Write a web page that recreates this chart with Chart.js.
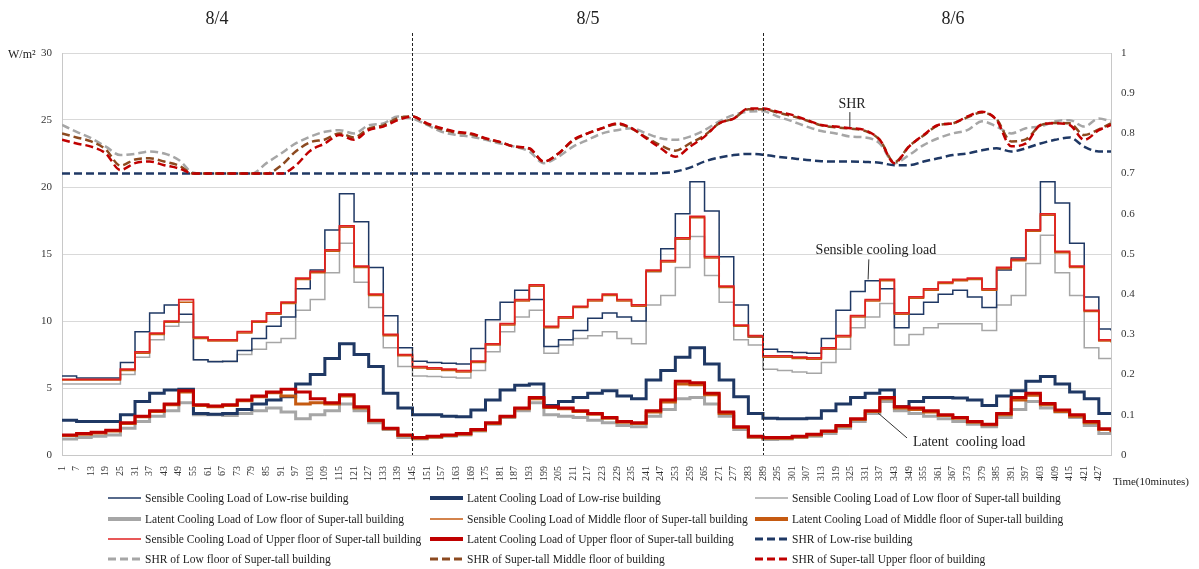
<!DOCTYPE html>
<html>
<head>
<meta charset="utf-8">
<title>Cooling load and SHR</title>
<script src="https://cdn.jsdelivr.net/npm/chart.js@4.4.0/dist/chart.umd.min.js"></script>
<style>
  html, body { margin: 0; padding: 0; background: #fff; }
  #wrap { position: relative; width: 1199px; height: 569px; font-family: "Liberation Serif", "Times New Roman", serif; color: #222; }
  #c { position: absolute; left: 0; top: 0; }
  .txt { position: absolute; white-space: nowrap; line-height: 1; }
  .day { font-size: 18px; top: 9px; transform: translateX(-50%); }
  .leg { position: absolute; height: 16px; display: flex; align-items: center; font-size: 11.5px; white-space: nowrap; }
  .leg svg { margin-right: 4px; flex: none; }
</style>
</head>
<body>
<div id="wrap">
  <canvas id="c" width="1199" height="569"></canvas>
  <div class="txt day" style="left:217px">8/4</div>
  <div class="txt day" style="left:588px">8/5</div>
  <div class="txt day" style="left:953px">8/6</div>
  <div class="txt" style="left:8px; top:48px; font-size:12px">W/m²</div>
  <div class="txt" style="left:1113px; top:476px; font-size:11px">Time(10minutes)</div>
  <div id="legend"></div>
</div>
<script>
// x positions: one value per hour (10-minute index), last point closes the series
const timeTicks = Array.from({ length: 72 }, (_, i) => 1 + 6 * i);
const hourX = timeTicks.concat(432);
const dayBreaks = [145, 289];

// Cooling loads, W/m2 (hourly, 8/4 | 8/5 | 8/6 | end)
const sensLowRise = [
  5.9, 5.75, 5.75, 5.75, 6.9, 9.2, 10.6, 11.2, 10.5, 7.1, 6.95, 7.0, 7.8, 8.7, 9.6, 10.3, 12.4, 13.8, 16.8, 19.5, 17.4, 14.0, 10.4, 8.0,
  7.0, 6.9, 6.85, 6.8, 7.95, 10.1, 11.4, 12.3, 11.6, 8.1, 8.6, 9.3, 10.2, 10.6, 10.3, 10.0, 13.7, 15.4, 18.0, 20.4, 18.2, 14.8, 11.2, 8.8,
  7.9, 7.7, 7.65, 7.6, 8.7, 10.8, 12.2, 13.0, 12.4, 9.5, 10.5, 11.4, 12.0, 12.3, 11.8, 11.0, 13.8, 14.7, 16.8, 20.4, 18.8, 15.8, 11.8, 9.4,
  9.3
];
const latLowRise = [
  2.6, 2.5, 2.5, 2.5, 3.0, 4.0, 4.6, 4.85, 4.9, 3.1, 3.05, 3.1, 3.4, 3.8, 4.1, 4.35, 5.3, 6.0, 7.2, 8.3, 7.5, 6.6, 4.6, 3.5,
  3.0, 3.0, 2.9, 2.85, 3.35, 4.1, 4.85, 5.2, 5.3, 3.7, 4.0, 4.3, 4.6, 4.8, 4.4, 4.2, 5.6, 6.3, 7.3, 8.0, 6.8, 5.6, 4.35, 3.1,
  2.75, 2.7, 2.7, 2.75, 3.3, 3.8, 4.3, 4.6, 4.85, 3.6, 4.0, 4.3, 4.3, 4.25, 4.1, 3.7, 4.4, 4.8, 5.5, 5.85, 5.3, 4.7, 4.2, 3.1,
  3.0
];
const sensLowFloor = [
  5.3, 5.3, 5.3, 5.3, 6.0, 7.3, 8.6, 9.6, 9.9, 7.1, 7.0, 6.95, 7.5, 7.9, 8.4, 8.7, 10.8, 11.6, 13.6, 15.8, 12.9, 11.0, 8.0, 6.6,
  5.9, 5.85, 5.8, 5.75, 6.3, 7.7, 9.2, 10.3, 10.8, 7.6, 8.2, 8.7, 8.9, 9.2, 8.7, 8.3, 11.2, 11.9, 14.0, 16.3, 13.4, 11.4, 8.6, 8.2,
  6.4, 6.3, 6.2, 6.1, 6.9, 7.9, 9.5, 10.3, 11.3, 8.2, 9.0, 9.5, 9.8, 9.8, 9.8, 9.3, 11.2, 11.9, 14.3, 16.4, 13.6, 11.9, 8.0, 7.2,
  7.2
];
const latLowFloor = [
  1.2, 1.3, 1.4, 1.5, 2.0, 2.5, 2.9, 3.3, 3.9, 3.0, 3.0, 2.95, 3.1, 3.3, 3.5, 3.2, 2.7, 3.0, 3.3, 3.8, 3.3, 2.4, 1.9, 1.3,
  1.2, 1.3, 1.4, 1.5, 1.8, 2.3, 2.8, 3.3, 3.9, 3.0, 2.9, 2.8, 2.6, 2.4, 2.2, 2.1, 2.9, 3.4, 4.2, 4.3, 3.8, 2.9, 1.9, 1.3,
  1.15, 1.2, 1.3, 1.4, 1.6, 2.0, 2.5, 3.1, 4.0, 3.3, 3.1, 2.9, 2.7, 2.5, 2.3, 2.1, 2.8, 3.4, 4.0, 3.5, 3.2, 2.8, 2.2, 1.6,
  1.5
];
const sensMidFloor = [
  5.6, 5.6, 5.6, 5.6, 6.3, 7.6, 9.0, 9.9, 11.4, 8.7, 8.5, 8.5, 9.1, 9.9, 10.5, 11.3, 13.1, 13.6, 15.2, 17.0, 14.0, 11.9, 8.9, 7.4,
  6.5, 6.4, 6.3, 6.2, 6.9, 8.2, 9.7, 11.5, 12.6, 9.5, 10.2, 11.0, 11.5, 11.9, 11.5, 11.1, 13.7, 14.4, 16.1, 17.7, 14.7, 12.5, 9.6, 8.8,
  7.3, 7.3, 7.2, 7.15, 7.9, 8.8, 10.3, 11.5, 13.0, 10.5, 11.7, 12.3, 12.8, 13.0, 13.1, 12.3, 13.9, 14.5, 16.7, 17.9, 15.1, 14.0, 10.7, 8.5,
  8.4
];
const latMidFloor = [
  1.45, 1.55, 1.65, 1.8, 2.35, 2.85, 3.25, 3.75, 4.7, 3.7, 3.6, 3.7, 4.05, 4.35, 4.65, 4.4, 3.8, 3.9, 3.8, 4.4, 3.5, 2.55, 1.95, 1.45,
  1.25, 1.35, 1.45, 1.55, 1.85, 2.35, 2.85, 3.45, 4.2, 3.55, 3.45, 3.25, 3.05, 2.75, 2.45, 2.35, 3.2, 3.95, 5.3, 5.25, 4.5, 3.1, 2.05, 1.35,
  1.25, 1.25, 1.35, 1.5, 1.75, 2.15, 2.65, 3.25, 4.2, 3.5, 3.4, 3.2, 2.95, 2.75, 2.45, 2.25, 3.0, 4.1, 4.45, 3.75, 3.25, 2.9, 2.4, 1.9,
  1.7
];
const sensUpFloor = [
  5.65, 5.65, 5.65, 5.65, 6.4, 7.7, 9.1, 10.0, 11.6, 8.8, 8.6, 8.6, 9.2, 10.0, 10.6, 11.4, 13.2, 13.7, 15.3, 17.1, 14.1, 12.0, 9.0, 7.5,
  6.6, 6.5, 6.4, 6.3, 7.0, 8.3, 9.8, 11.6, 12.7, 9.6, 10.3, 11.1, 11.6, 12.0, 11.6, 11.2, 13.8, 14.5, 16.2, 17.8, 14.8, 12.6, 9.7, 8.9,
  7.4, 7.4, 7.3, 7.25, 8.0, 8.9, 10.4, 11.6, 13.1, 10.6, 11.8, 12.4, 12.9, 13.1, 13.2, 12.4, 14.0, 14.6, 16.8, 18.0, 15.2, 14.1, 10.8, 8.6,
  8.5
];
const latUpFloor = [
  1.5, 1.6, 1.7, 1.85, 2.4, 2.9, 3.3, 3.8, 4.8, 3.75, 3.65, 3.75, 4.1, 4.4, 4.7, 4.9, 4.7, 4.2, 3.9, 4.5, 3.6, 2.6, 2.0, 1.5,
  1.3, 1.4, 1.5, 1.6, 1.9, 2.4, 2.9, 3.5, 4.3, 3.6, 3.5, 3.3, 3.1, 2.8, 2.5, 2.4, 3.3, 4.1, 5.5, 5.4, 4.6, 3.2, 2.1, 1.4,
  1.3, 1.3, 1.4, 1.55, 1.8, 2.2, 2.7, 3.3, 4.3, 3.6, 3.5, 3.3, 3.0, 2.8, 2.5, 2.3, 3.1, 4.3, 4.6, 3.85, 3.35, 3.0, 2.5, 1.95,
  1.75
];

// Sensible heat ratio (right axis)
const shrLowRise = [
  0.70, 0.70, 0.70, 0.70, 0.70, 0.70, 0.70, 0.70, 0.70, 0.70, 0.70, 0.70, 0.70, 0.70, 0.70, 0.70, 0.70, 0.70, 0.70, 0.70, 0.70, 0.70, 0.70, 0.70,
  0.70, 0.70, 0.70, 0.70, 0.70, 0.70, 0.70, 0.70, 0.70, 0.70, 0.70, 0.70, 0.70, 0.70, 0.70, 0.70, 0.70, 0.701, 0.705, 0.715, 0.73, 0.74, 0.746, 0.749,
  0.747, 0.742, 0.738, 0.734, 0.731, 0.73, 0.73, 0.729, 0.727, 0.721, 0.721, 0.73, 0.738, 0.746, 0.75, 0.758, 0.763, 0.755, 0.763, 0.775, 0.784, 0.79, 0.767, 0.755,
  0.755
];
const shrLowFloor = [
  0.821, 0.804, 0.788, 0.767, 0.746, 0.749, 0.755, 0.75, 0.734, 0.702, 0.70, 0.70, 0.70, 0.70, 0.726, 0.75, 0.775, 0.792, 0.804, 0.808, 0.80, 0.82, 0.825, 0.842,
  0.837, 0.821, 0.804, 0.796, 0.792, 0.784, 0.775, 0.767, 0.755, 0.726, 0.742, 0.767, 0.784, 0.80, 0.808, 0.813, 0.80, 0.788, 0.784, 0.792, 0.808, 0.83, 0.846, 0.854,
  0.855, 0.842, 0.83, 0.817, 0.806, 0.80, 0.792, 0.79, 0.775, 0.726, 0.746, 0.771, 0.788, 0.80, 0.808, 0.83, 0.817, 0.80, 0.813, 0.817, 0.83, 0.833, 0.817, 0.837,
  0.83
];
const shrMidFloor = [
  0.80, 0.79, 0.78, 0.76, 0.72, 0.735, 0.738, 0.73, 0.72, 0.70, 0.70, 0.70, 0.70, 0.70, 0.70, 0.72, 0.755, 0.778, 0.785, 0.80, 0.79, 0.812, 0.82, 0.838,
  0.842, 0.823, 0.81, 0.802, 0.798, 0.787, 0.778, 0.767, 0.762, 0.73, 0.75, 0.782, 0.80, 0.813, 0.823, 0.812, 0.79, 0.77, 0.757, 0.775, 0.795, 0.825, 0.837, 0.86,
  0.86, 0.852, 0.843, 0.832, 0.82, 0.815, 0.812, 0.806, 0.784, 0.728, 0.768, 0.795, 0.82, 0.825, 0.84, 0.852, 0.835, 0.78, 0.785, 0.82, 0.826, 0.825, 0.796, 0.81,
  0.825
];
const shrUpFloor = [
  0.784, 0.775, 0.767, 0.75, 0.709, 0.726, 0.73, 0.721, 0.713, 0.70, 0.70, 0.70, 0.70, 0.70, 0.70, 0.70, 0.72, 0.757, 0.775, 0.796, 0.784, 0.808, 0.817, 0.833,
  0.842, 0.825, 0.813, 0.804, 0.80, 0.788, 0.779, 0.767, 0.763, 0.73, 0.75, 0.784, 0.80, 0.813, 0.825, 0.813, 0.788, 0.763, 0.742, 0.767, 0.792, 0.825, 0.837, 0.862,
  0.862, 0.854, 0.846, 0.833, 0.821, 0.817, 0.813, 0.808, 0.784, 0.726, 0.767, 0.796, 0.821, 0.825, 0.842, 0.854, 0.833, 0.768, 0.775, 0.821, 0.825, 0.821, 0.784, 0.808,
  0.821
];

// text notes placed in data coordinates
const notes = [
  { text: 'SHR', axis: 'y1', x: 325.6, y: 0.873, align: 'center', line: [324.7, 0.853, 324.7, 0.816] },
  { text: 'Sensible cooling load', axis: 'y', x: 335.4, y: 15.3, align: 'center', line: [332.5, 14.6, 332.2, 13.1] },
  { text: 'Latent  cooling load', axis: 'y', x: 350.6, y: 0.97, align: 'left', line: [348.2, 1.27, 336.3, 3.13] }
];

const NAVY = '#1f3864', GRAY = '#a6a6a6', BROWN = '#c55a11', BROWN_D = '#8c4a20', RED = '#c00000', RED_L = '#e02020';
const SERIF = '"Liberation Serif", "Times New Roman", serif';

function pts(values) {
  return values.map((v, i) => ({ x: hourX[i], y: v }));
}

function loadSet(label, values, color, width, order) {
  return {
    label, data: pts(values), yAxisID: 'y', borderColor: color, backgroundColor: color,
    borderWidth: width, stepped: true, pointRadius: 0, order
  };
}

function shrSet(label, values, color, order) {
  return {
    label, data: pts(values), yAxisID: 'y1', borderColor: color, backgroundColor: color,
    borderWidth: 2.5, borderDash: [8, 4], cubicInterpolationMode: 'monotone', pointRadius: 0, order
  };
}

// order in the legend (3 columns, row by row)
const datasets = [
  loadSet('Sensible Cooling Load of Low-rise building', sensLowRise, NAVY, 1.5, 3),
  loadSet('Latent Cooling Load of Low-rise building', latLowRise, NAVY, 3, 3),
  loadSet('Sensible Cooling Load of Low floor of Super-tall building', sensLowFloor, GRAY, 1.5, 4),
  loadSet('Latent Cooling Load of Low floor of Super-tall building', latLowFloor, GRAY, 3, 4),
  loadSet('Sensible Cooling Load of Middle floor of Super-tall building', sensMidFloor, BROWN, 1.5, 2),
  loadSet('Latent Cooling Load of Middle floor of Super-tall building', latMidFloor, BROWN, 3, 2),
  loadSet('Sensible Cooling Load of Upper floor of Super-tall building', sensUpFloor, RED_L, 1.75, 1),
  loadSet('Latent Cooling Load of Upper floor of Super-tall building', latUpFloor, RED, 3, 1),
  shrSet('SHR of Low-rise building', shrLowRise, NAVY, 3),
  shrSet('SHR of Low floor of Super-tall building', shrLowFloor, GRAY, 4),
  shrSet('SHR of Super-tall Middle floor of building', shrMidFloor, BROWN_D, 2),
  shrSet('SHR of Super-tall Upper floor of building', shrUpFloor, RED, 1)
];

const decorPlugin = {
  id: 'decor',
  afterDatasetsDraw(chart) {
    const { ctx } = chart;
    const xs = chart.scales.x;
    const bottom = chart.chartArea.bottom;
    ctx.save();
    // day dividers
    ctx.strokeStyle = '#222';
    ctx.lineWidth = 1;
    ctx.setLineDash([3, 2]);
    dayBreaks.forEach(v => {
      const px = Math.round(xs.getPixelForValue(v)) + 0.5;
      ctx.beginPath();
      ctx.moveTo(px, 33);
      ctx.lineTo(px, bottom);
      ctx.stroke();
    });
    ctx.setLineDash([]);
    // notes with leader lines
    ctx.font = '14px ' + SERIF;
    ctx.fillStyle = '#222';
    ctx.strokeStyle = '#333';
    ctx.textBaseline = 'middle';
    notes.forEach(n => {
      const ys = chart.scales[n.axis];
      ctx.textAlign = n.align;
      ctx.fillText(n.text, xs.getPixelForValue(n.x), ys.getPixelForValue(n.y));
      ctx.beginPath();
      ctx.moveTo(xs.getPixelForValue(n.line[0]), ys.getPixelForValue(n.line[1]));
      ctx.lineTo(xs.getPixelForValue(n.line[2]), ys.getPixelForValue(n.line[3]));
      ctx.stroke();
    });
    ctx.restore();
  }
};

new Chart(document.getElementById('c'), {
  type: 'line',
  data: { datasets },
  options: {
    responsive: false,
    animation: false,
    devicePixelRatio: 1,
    layout: { padding: { top: 53, left: 0, right: 0, bottom: 0 } },
    plugins: { legend: { display: false }, tooltip: { enabled: false } },
    scales: {
      x: {
        type: 'linear', min: 1, max: 432,
        afterBuildTicks: s => { s.ticks = timeTicks.map(v => ({ value: v })); },
        afterFit: s => { s.height = 114; },
        grid: { display: false },
        border: { color: '#c8c8c8' },
        ticks: {
          autoSkip: false, minRotation: 90, maxRotation: 90, padding: 3,
          color: '#333', font: { family: SERIF, size: 10 }
        }
      },
      y: {
        position: 'left', min: 0, max: 30,
        afterFit: s => { s.width = 62; },
        grid: { color: '#d9d9d9', drawTicks: false },
        border: { color: '#c8c8c8' },
        ticks: { stepSize: 5, padding: 10, color: '#333', font: { family: SERIF, size: 11 } }
      },
      y1: {
        position: 'right', min: 0, max: 1,
        afterFit: s => { s.width = 88; },
        grid: { drawOnChartArea: false, drawTicks: false },
        border: { color: '#c8c8c8' },
        ticks: {
          stepSize: 0.1, padding: 10, color: '#333', font: { family: SERIF, size: 11 },
          callback: v => String(Math.round(v * 10) / 10)
        }
      }
    }
  },
  plugins: [decorPlugin]
});

// legend in three columns, like the source figure
const legendCols = [108, 430, 755];
const legendRows = [490, 511, 531, 551];
const legendEl = document.getElementById('legend');
datasets.forEach((ds, i) => {
  const item = document.createElement('div');
  item.className = 'leg';
  item.style.left = legendCols[i % 3] + 'px';
  item.style.top = legendRows[Math.floor(i / 3)] + 'px';
  const w = ds.borderDash ? 3 : (ds.borderWidth >= 3 ? 4 : 1.6);
  const dash = ds.borderDash ? ' stroke-dasharray="8,4"' : '';
  item.innerHTML = '<svg width="33" height="8"><line x1="0" y1="4" x2="33" y2="4" stroke="' + ds.borderColor +
    '" stroke-width="' + w + '"' + dash + '/></svg><span>' + ds.label + '</span>';
  legendEl.appendChild(item);
});
</script>
</body>
</html>
